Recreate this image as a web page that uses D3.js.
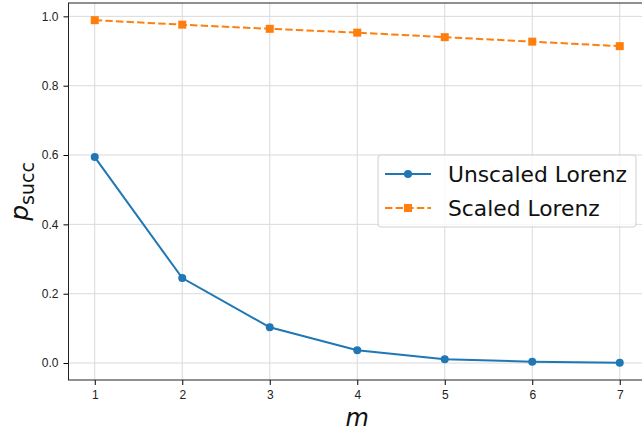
<!DOCTYPE html>
<html>
<head>
<meta charset="utf-8">
<script src="https://cdn.jsdelivr.net/npm/d3@7"></script>
<style>
  body { margin: 0; background: white; }
  svg { display: block; font-family: "DejaVu Sans", sans-serif; }
</style>
</head>
<body>
<script>
// data
const mValues = [1, 2, 3, 4, 5, 6, 7];
const unscaled = [0.594, 0.245, 0.103, 0.037, 0.011, 0.004, 0.001];
const scaled = [0.989, 0.976, 0.964, 0.953, 0.940, 0.927, 0.914];
const yTicks = [0.0, 0.2, 0.4, 0.6, 0.8, 1.0];
const seriesNames = ['Unscaled Lorenz', 'Scaled Lorenz'];

const width = 642, height = 435;
const margin = {top: 3, right: -4, bottom: 55, left: 68.5};

const xScale = d3.scaleLinear()
  .domain([0.7, 7.3])
  .range([margin.left, width - margin.right]);

const yScale = d3.scaleLinear()
  .domain([-0.0489, 1.0385])
  .range([height - margin.bottom, margin.top]);

const svg = d3.select('body')
  .append('svg')
  .attr('width', width)
  .attr('height', height);

// grid
svg.append('g')
  .selectAll('line.vx')
  .data(mValues)
  .enter()
    .append('line')
    .attr('x1', d => xScale(d)).attr('x2', d => xScale(d))
    .attr('y1', margin.top).attr('y2', height - margin.bottom)
    .attr('stroke', '#dadada').attr('stroke-width', 1);

svg.append('g')
  .selectAll('line.hy')
  .data(yTicks)
  .enter()
    .append('line')
    .attr('y1', d => yScale(d)).attr('y2', d => yScale(d))
    .attr('x1', margin.left).attr('x2', width - margin.right)
    .attr('stroke', '#dadada').attr('stroke-width', 1);

const xAxis = d3.axisBottom(xScale).tickValues(mValues).tickFormat(d3.format('d'))
  .tickSizeOuter(0).tickSize(5).tickPadding(5);
const yAxis = d3.axisLeft(yScale).tickValues(yTicks).tickFormat(d3.format('.1f'))
  .tickSizeOuter(0).tickSize(5).tickPadding(5);

svg.append('g')
  .attr('transform', `translate(0, ${height - margin.bottom})`)
  .call(xAxis)
  .call(g => g.select('.domain').remove())
  .selectAll('text').style('font-size', '12px').attr('fill', '#222');

svg.append('g')
  .attr('transform', `translate(${margin.left}, 0)`)
  .call(yAxis)
  .call(g => g.select('.domain').remove())
  .selectAll('text').style('font-size', '12px').attr('fill', '#222');

// spines
svg.append('rect')
  .attr('x', margin.left).attr('y', margin.top)
  .attr('width', width - margin.right - margin.left)
  .attr('height', height - margin.bottom - margin.top)
  .attr('fill', 'none').attr('stroke', '#222').attr('stroke-width', 1);

const line = d3.line()
  .x((d, i) => xScale(mValues[i]))
  .y(d => yScale(d));

// unscaled
svg.append('path')
  .datum(unscaled)
  .attr('d', line)
  .attr('fill', 'none').attr('stroke', '#1f77b4').attr('stroke-width', 2);
svg.append('g')
  .selectAll('circle')
  .data(unscaled)
  .enter()
    .append('circle')
    .attr('cx', (d, i) => xScale(mValues[i]))
    .attr('cy', d => yScale(d))
    .attr('r', 4)
    .attr('fill', '#1f77b4');

// scaled
svg.append('path')
  .datum(scaled)
  .attr('d', line)
  .attr('fill', 'none').attr('stroke', '#ff7f0e').attr('stroke-width', 2)
  .attr('stroke-dasharray', '7.4,3.2');
svg.append('g')
  .selectAll('rect.sq')
  .data(scaled)
  .enter()
    .append('rect')
    .attr('x', (d, i) => xScale(mValues[i]) - 4)
    .attr('y', d => yScale(d) - 4)
    .attr('width', 8).attr('height', 8)
    .attr('fill', '#ff7f0e');

// axis labels
const yLabel = svg.append('text')
  .attr('transform', `translate(28, ${(margin.top + height - margin.bottom) / 2}) rotate(-90)`)
  .attr('text-anchor', 'middle')
  .style('font-size', '25px')
  .attr('fill', '#111');
yLabel.append('tspan').style('font-style', 'italic').text('p');
yLabel.append('tspan').attr('dy', 6).style('font-size', '19px').text('succ');

svg.append('text')
  .attr('x', (margin.left + 646) / 2)
  .attr('y', 426)
  .attr('text-anchor', 'middle')
  .style('font-size', '24px')
  .style('font-style', 'italic')
  .attr('fill', '#111')
  .text('m');

// legend
const legend = svg.append('g').attr('transform', 'translate(378, 155)');
legend.append('rect')
  .attr('width', 258).attr('height', 72).attr('rx', 3)
  .attr('fill', 'white').attr('fill-opacity', 0.8)
  .attr('stroke', '#d0d0d0');

const legendRows = legend.selectAll('g.row')
  .data(seriesNames)
  .enter()
    .append('g')
    .attr('transform', (d, i) => `translate(0, ${19 + i * 34})`);

legendRows.append('line')
  .attr('x1', 7).attr('x2', 53)
  .attr('stroke', (d, i) => i === 0 ? '#1f77b4' : '#ff7f0e')
  .attr('stroke-width', 2)
  .attr('stroke-dasharray', (d, i) => i === 0 ? null : '7.4,3.2');
legendRows.append('circle').filter((d, i) => i === 0)
  .attr('cx', 30).attr('r', 4).attr('fill', '#1f77b4');
legendRows.filter((d, i) => i === 1).append('rect')
  .attr('x', 26).attr('y', -4).attr('width', 8).attr('height', 8).attr('fill', '#ff7f0e');
legendRows.append('text')
  .attr('x', 70).attr('y', 8)
  .style('font-size', '21.8px')
  .attr('fill', '#111')
  .text(d => d);
</script>
</body>
</html>
